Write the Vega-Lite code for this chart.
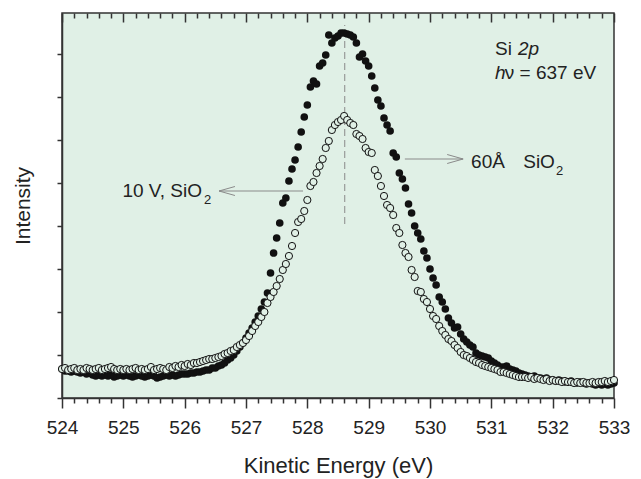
{
  "$schema": "https://vega.github.io/schema/vega-lite/v6.json",
  "width": 552,
  "height": 385,
  "autosize": {"type": "none"},
  "padding": {"left": 62, "top": 13, "right": 27, "bottom": 81},
  "background": "white",
  "config": {
    "view": {"fill": "#e0f0e6", "stroke": "#333333", "strokeWidth": 1.5},
    "font": "Liberation Sans"
  },
  "datasets": {
    "filled": [
      {"energy": 524.00, "intensity": 29}, {"energy": 524.05, "intensity": 27}, {"energy": 524.10, "intensity": 27}, {"energy": 524.15, "intensity": 26}, {"energy": 524.20, "intensity": 27},
      {"energy": 524.25, "intensity": 26}, {"energy": 524.30, "intensity": 25}, {"energy": 524.35, "intensity": 26}, {"energy": 524.40, "intensity": 24}, {"energy": 524.45, "intensity": 25},
      {"energy": 524.50, "intensity": 23}, {"energy": 524.55, "intensity": 22}, {"energy": 524.60, "intensity": 23}, {"energy": 524.65, "intensity": 22}, {"energy": 524.70, "intensity": 23},
      {"energy": 524.75, "intensity": 22}, {"energy": 524.80, "intensity": 23}, {"energy": 524.85, "intensity": 21}, {"energy": 524.90, "intensity": 22}, {"energy": 524.95, "intensity": 23},
      {"energy": 525.00, "intensity": 22}, {"energy": 525.05, "intensity": 23}, {"energy": 525.10, "intensity": 22}, {"energy": 525.15, "intensity": 21}, {"energy": 525.20, "intensity": 22},
      {"energy": 525.25, "intensity": 23}, {"energy": 525.30, "intensity": 22}, {"energy": 525.35, "intensity": 21}, {"energy": 525.40, "intensity": 22}, {"energy": 525.45, "intensity": 23},
      {"energy": 525.50, "intensity": 22}, {"energy": 525.55, "intensity": 20}, {"energy": 525.60, "intensity": 21}, {"energy": 525.65, "intensity": 22}, {"energy": 525.70, "intensity": 23},
      {"energy": 525.75, "intensity": 22}, {"energy": 525.80, "intensity": 23}, {"energy": 525.85, "intensity": 22}, {"energy": 525.90, "intensity": 23}, {"energy": 525.95, "intensity": 24},
      {"energy": 526.00, "intensity": 24}, {"energy": 526.05, "intensity": 24}, {"energy": 526.10, "intensity": 25}, {"energy": 526.15, "intensity": 25}, {"energy": 526.20, "intensity": 26},
      {"energy": 526.25, "intensity": 26}, {"energy": 526.30, "intensity": 27}, {"energy": 526.35, "intensity": 28}, {"energy": 526.40, "intensity": 28}, {"energy": 526.45, "intensity": 30},
      {"energy": 526.50, "intensity": 30}, {"energy": 526.55, "intensity": 32}, {"energy": 526.60, "intensity": 33}, {"energy": 526.65, "intensity": 35}, {"energy": 526.70, "intensity": 38},
      {"energy": 526.75, "intensity": 40}, {"energy": 526.80, "intensity": 43}, {"energy": 526.85, "intensity": 47}, {"energy": 526.90, "intensity": 51}, {"energy": 526.95, "intensity": 55},
      {"energy": 527.00, "intensity": 60}, {"energy": 527.05, "intensity": 65}, {"energy": 527.10, "intensity": 70}, {"energy": 527.15, "intensity": 76}, {"energy": 527.20, "intensity": 82},
      {"energy": 527.25, "intensity": 89}, {"energy": 527.30, "intensity": 96}, {"energy": 527.35, "intensity": 105}, {"energy": 527.40, "intensity": 125}, {"energy": 527.45, "intensity": 145},
      {"energy": 527.50, "intensity": 160}, {"energy": 527.55, "intensity": 175}, {"energy": 527.60, "intensity": 195}, {"energy": 527.65, "intensity": 200}, {"energy": 527.70, "intensity": 217},
      {"energy": 527.75, "intensity": 229}, {"energy": 527.80, "intensity": 238}, {"energy": 527.85, "intensity": 251}, {"energy": 527.90, "intensity": 266}, {"energy": 527.95, "intensity": 281},
      {"energy": 528.00, "intensity": 293}, {"energy": 528.05, "intensity": 311}, {"energy": 528.10, "intensity": 317}, {"energy": 528.15, "intensity": 314}, {"energy": 528.20, "intensity": 332},
      {"energy": 528.25, "intensity": 335}, {"energy": 528.30, "intensity": 343}, {"energy": 528.35, "intensity": 363}, {"energy": 528.40, "intensity": 355}, {"energy": 528.45, "intensity": 360},
      {"energy": 528.50, "intensity": 362}, {"energy": 528.55, "intensity": 365}, {"energy": 528.60, "intensity": 365}, {"energy": 528.65, "intensity": 364}, {"energy": 528.70, "intensity": 363},
      {"energy": 528.75, "intensity": 361}, {"energy": 528.80, "intensity": 355}, {"energy": 528.85, "intensity": 341}, {"energy": 528.90, "intensity": 344}, {"energy": 528.95, "intensity": 337},
      {"energy": 529.00, "intensity": 332}, {"energy": 529.05, "intensity": 322}, {"energy": 529.10, "intensity": 310}, {"energy": 529.15, "intensity": 298}, {"energy": 529.20, "intensity": 292},
      {"energy": 529.25, "intensity": 280}, {"energy": 529.30, "intensity": 273}, {"energy": 529.35, "intensity": 267}, {"energy": 529.40, "intensity": 245}, {"energy": 529.45, "intensity": 241},
      {"energy": 529.50, "intensity": 225}, {"energy": 529.55, "intensity": 219}, {"energy": 529.60, "intensity": 210}, {"energy": 529.65, "intensity": 194}, {"energy": 529.70, "intensity": 185},
      {"energy": 529.75, "intensity": 172}, {"energy": 529.80, "intensity": 165}, {"energy": 529.85, "intensity": 159}, {"energy": 529.90, "intensity": 147}, {"energy": 529.95, "intensity": 140},
      {"energy": 530.00, "intensity": 129}, {"energy": 530.05, "intensity": 120}, {"energy": 530.10, "intensity": 113}, {"energy": 530.15, "intensity": 101}, {"energy": 530.20, "intensity": 96},
      {"energy": 530.25, "intensity": 89}, {"energy": 530.30, "intensity": 80}, {"energy": 530.35, "intensity": 75}, {"energy": 530.40, "intensity": 70}, {"energy": 530.45, "intensity": 71},
      {"energy": 530.50, "intensity": 64}, {"energy": 530.55, "intensity": 59}, {"energy": 530.60, "intensity": 56}, {"energy": 530.65, "intensity": 53}, {"energy": 530.70, "intensity": 51},
      {"energy": 530.75, "intensity": 45}, {"energy": 530.80, "intensity": 43}, {"energy": 530.85, "intensity": 42}, {"energy": 530.90, "intensity": 41}, {"energy": 530.95, "intensity": 40},
      {"energy": 531.00, "intensity": 37}, {"energy": 531.05, "intensity": 35}, {"energy": 531.10, "intensity": 33}, {"energy": 531.15, "intensity": 31}, {"energy": 531.20, "intensity": 31},
      {"energy": 531.25, "intensity": 32}, {"energy": 531.30, "intensity": 29}, {"energy": 531.35, "intensity": 28}, {"energy": 531.40, "intensity": 27}, {"energy": 531.45, "intensity": 25},
      {"energy": 531.50, "intensity": 24}, {"energy": 531.55, "intensity": 23}, {"energy": 531.60, "intensity": 22}, {"energy": 531.65, "intensity": 21}, {"energy": 531.70, "intensity": 22},
      {"energy": 531.75, "intensity": 20}, {"energy": 531.80, "intensity": 20}, {"energy": 531.85, "intensity": 19}, {"energy": 531.90, "intensity": 20}, {"energy": 531.95, "intensity": 18},
      {"energy": 532.00, "intensity": 18}, {"energy": 532.05, "intensity": 17}, {"energy": 532.10, "intensity": 18}, {"energy": 532.15, "intensity": 17}, {"energy": 532.20, "intensity": 16},
      {"energy": 532.25, "intensity": 16}, {"energy": 532.30, "intensity": 17}, {"energy": 532.35, "intensity": 15}, {"energy": 532.40, "intensity": 15}, {"energy": 532.45, "intensity": 16},
      {"energy": 532.50, "intensity": 15}, {"energy": 532.55, "intensity": 14}, {"energy": 532.60, "intensity": 15}, {"energy": 532.65, "intensity": 14}, {"energy": 532.70, "intensity": 13},
      {"energy": 532.75, "intensity": 14}, {"energy": 532.80, "intensity": 13}, {"energy": 532.85, "intensity": 14}, {"energy": 532.90, "intensity": 13}, {"energy": 532.95, "intensity": 14},
      {"energy": 533.00, "intensity": 15}
    ],
    "open": [
      {"energy": 524.00, "intensity": 29}, {"energy": 524.05, "intensity": 30}, {"energy": 524.10, "intensity": 28}, {"energy": 524.15, "intensity": 29}, {"energy": 524.20, "intensity": 30},
      {"energy": 524.25, "intensity": 28}, {"energy": 524.30, "intensity": 29}, {"energy": 524.35, "intensity": 28}, {"energy": 524.40, "intensity": 30}, {"energy": 524.45, "intensity": 29},
      {"energy": 524.50, "intensity": 28}, {"energy": 524.55, "intensity": 29}, {"energy": 524.60, "intensity": 30}, {"energy": 524.65, "intensity": 28}, {"energy": 524.70, "intensity": 29},
      {"energy": 524.75, "intensity": 30}, {"energy": 524.80, "intensity": 31}, {"energy": 524.85, "intensity": 29}, {"energy": 524.90, "intensity": 28}, {"energy": 524.95, "intensity": 29},
      {"energy": 525.00, "intensity": 28}, {"energy": 525.05, "intensity": 29}, {"energy": 525.10, "intensity": 28}, {"energy": 525.15, "intensity": 29}, {"energy": 525.20, "intensity": 30},
      {"energy": 525.25, "intensity": 28}, {"energy": 525.30, "intensity": 29}, {"energy": 525.35, "intensity": 28}, {"energy": 525.40, "intensity": 29}, {"energy": 525.45, "intensity": 31},
      {"energy": 525.50, "intensity": 28}, {"energy": 525.55, "intensity": 29}, {"energy": 525.60, "intensity": 30}, {"energy": 525.65, "intensity": 29}, {"energy": 525.70, "intensity": 28},
      {"energy": 525.75, "intensity": 31}, {"energy": 525.80, "intensity": 30}, {"energy": 525.85, "intensity": 32}, {"energy": 525.90, "intensity": 31}, {"energy": 525.95, "intensity": 33},
      {"energy": 526.00, "intensity": 32}, {"energy": 526.05, "intensity": 34}, {"energy": 526.10, "intensity": 33}, {"energy": 526.15, "intensity": 35}, {"energy": 526.20, "intensity": 35},
      {"energy": 526.25, "intensity": 36}, {"energy": 526.30, "intensity": 37}, {"energy": 526.35, "intensity": 38}, {"energy": 526.40, "intensity": 39}, {"energy": 526.45, "intensity": 39},
      {"energy": 526.50, "intensity": 40}, {"energy": 526.55, "intensity": 41}, {"energy": 526.60, "intensity": 42}, {"energy": 526.65, "intensity": 44}, {"energy": 526.70, "intensity": 45},
      {"energy": 526.75, "intensity": 47}, {"energy": 526.80, "intensity": 48}, {"energy": 526.85, "intensity": 51}, {"energy": 526.90, "intensity": 53}, {"energy": 526.95, "intensity": 55},
      {"energy": 527.00, "intensity": 58}, {"energy": 527.05, "intensity": 62}, {"energy": 527.10, "intensity": 67}, {"energy": 527.15, "intensity": 72}, {"energy": 527.20, "intensity": 76},
      {"energy": 527.25, "intensity": 81}, {"energy": 527.30, "intensity": 86}, {"energy": 527.35, "intensity": 95}, {"energy": 527.40, "intensity": 101}, {"energy": 527.45, "intensity": 106},
      {"energy": 527.50, "intensity": 112}, {"energy": 527.55, "intensity": 119}, {"energy": 527.60, "intensity": 128}, {"energy": 527.65, "intensity": 134}, {"energy": 527.70, "intensity": 142},
      {"energy": 527.75, "intensity": 152}, {"energy": 527.80, "intensity": 165}, {"energy": 527.85, "intensity": 176}, {"energy": 527.90, "intensity": 179}, {"energy": 527.95, "intensity": 187},
      {"energy": 528.00, "intensity": 198}, {"energy": 528.05, "intensity": 212}, {"energy": 528.10, "intensity": 216}, {"energy": 528.15, "intensity": 225}, {"energy": 528.20, "intensity": 232},
      {"energy": 528.25, "intensity": 239}, {"energy": 528.30, "intensity": 250}, {"energy": 528.35, "intensity": 257}, {"energy": 528.40, "intensity": 268}, {"energy": 528.45, "intensity": 273},
      {"energy": 528.50, "intensity": 276}, {"energy": 528.55, "intensity": 278}, {"energy": 528.60, "intensity": 282}, {"energy": 528.65, "intensity": 278}, {"energy": 528.70, "intensity": 275},
      {"energy": 528.75, "intensity": 273}, {"energy": 528.80, "intensity": 264}, {"energy": 528.85, "intensity": 262}, {"energy": 528.90, "intensity": 259}, {"energy": 528.95, "intensity": 250},
      {"energy": 529.00, "intensity": 246}, {"energy": 529.05, "intensity": 245}, {"energy": 529.10, "intensity": 228}, {"energy": 529.15, "intensity": 222}, {"energy": 529.20, "intensity": 212},
      {"energy": 529.25, "intensity": 202}, {"energy": 529.30, "intensity": 193}, {"energy": 529.35, "intensity": 190}, {"energy": 529.40, "intensity": 183}, {"energy": 529.45, "intensity": 170},
      {"energy": 529.50, "intensity": 165}, {"energy": 529.55, "intensity": 153}, {"energy": 529.60, "intensity": 145}, {"energy": 529.65, "intensity": 141}, {"energy": 529.70, "intensity": 128},
      {"energy": 529.75, "intensity": 121}, {"energy": 529.80, "intensity": 107}, {"energy": 529.85, "intensity": 106}, {"energy": 529.90, "intensity": 99}, {"energy": 529.95, "intensity": 96},
      {"energy": 530.00, "intensity": 89}, {"energy": 530.05, "intensity": 82}, {"energy": 530.10, "intensity": 79}, {"energy": 530.15, "intensity": 72}, {"energy": 530.20, "intensity": 67},
      {"energy": 530.25, "intensity": 63}, {"energy": 530.30, "intensity": 59}, {"energy": 530.35, "intensity": 57}, {"energy": 530.40, "intensity": 53}, {"energy": 530.45, "intensity": 50},
      {"energy": 530.50, "intensity": 46}, {"energy": 530.55, "intensity": 43}, {"energy": 530.60, "intensity": 42}, {"energy": 530.65, "intensity": 40}, {"energy": 530.70, "intensity": 38},
      {"energy": 530.75, "intensity": 36}, {"energy": 530.80, "intensity": 35}, {"energy": 530.85, "intensity": 33}, {"energy": 530.90, "intensity": 32}, {"energy": 530.95, "intensity": 31},
      {"energy": 531.00, "intensity": 30}, {"energy": 531.05, "intensity": 29}, {"energy": 531.10, "intensity": 28}, {"energy": 531.15, "intensity": 26}, {"energy": 531.20, "intensity": 26},
      {"energy": 531.25, "intensity": 25}, {"energy": 531.30, "intensity": 24}, {"energy": 531.35, "intensity": 23}, {"energy": 531.40, "intensity": 22}, {"energy": 531.45, "intensity": 21},
      {"energy": 531.50, "intensity": 21}, {"energy": 531.55, "intensity": 21}, {"energy": 531.60, "intensity": 20}, {"energy": 531.65, "intensity": 21}, {"energy": 531.70, "intensity": 19},
      {"energy": 531.75, "intensity": 20}, {"energy": 531.80, "intensity": 19}, {"energy": 531.85, "intensity": 18}, {"energy": 531.90, "intensity": 19}, {"energy": 531.95, "intensity": 17},
      {"energy": 532.00, "intensity": 18}, {"energy": 532.05, "intensity": 17}, {"energy": 532.10, "intensity": 17}, {"energy": 532.15, "intensity": 16}, {"energy": 532.20, "intensity": 17},
      {"energy": 532.25, "intensity": 16}, {"energy": 532.30, "intensity": 16}, {"energy": 532.35, "intensity": 15}, {"energy": 532.40, "intensity": 16}, {"energy": 532.45, "intensity": 15},
      {"energy": 532.50, "intensity": 16}, {"energy": 532.55, "intensity": 15}, {"energy": 532.60, "intensity": 15}, {"energy": 532.65, "intensity": 16}, {"energy": 532.70, "intensity": 15},
      {"energy": 532.75, "intensity": 16}, {"energy": 532.80, "intensity": 16}, {"energy": 532.85, "intensity": 17}, {"energy": 532.90, "intensity": 16}, {"energy": 532.95, "intensity": 17},
      {"energy": 533.00, "intensity": 18}
    ],
    "arrows": [
      {"energy": 527.93, "intensity": 207, "energy2": 526.56, "intensity2": 207},
      {"energy": 526.56, "intensity": 207, "energy2": 526.82, "intensity2": 211.5},
      {"energy": 526.56, "intensity": 207, "energy2": 526.82, "intensity2": 202.5},
      {"energy": 529.59, "intensity": 239, "energy2": 530.54, "intensity2": 239},
      {"energy": 530.54, "intensity": 239, "energy2": 530.28, "intensity2": 243.5},
      {"energy": 530.54, "intensity": 239, "energy2": 530.28, "intensity2": 234.5}
    ],
    "peakline": [
      {"energy": 528.61, "intensity": 174, "intensity2": 373}
    ],
    "textRegular": [
      {"energy": 530.67, "intensity": 236, "label": "60Å"},
      {"energy": 531.52, "intensity": 236, "label": "SiO"},
      {"energy": 531.06, "intensity": 349, "label": "Si"},
      {"energy": 531.22, "intensity": 325, "label": "ν = 637 eV"}
    ],
    "textItalic": [
      {"energy": 531.435, "intensity": 349, "label": "2p"},
      {"energy": 531.06, "intensity": 325, "label": "h"}
    ],
    "textRight": [
      {"energy": 526.283, "intensity": 207, "label": "10 V, SiO"}
    ],
    "textSub": [
      {"energy": 526.315, "intensity": 198, "label": "2"},
      {"energy": 532.055, "intensity": 227, "label": "2"}
    ]
  },
  "resolve": {"axis": {"x": "independent"}},
  "encoding": {
    "y": {"field": "intensity", "type": "quantitative",
      "scale": {"domain": [0, 385], "nice": false, "zero": true},
      "axis": {
        "orient": "left",
        "values": [0, 43, 86, 129, 172, 215, 258, 301, 344],
        "labels": false,
        "grid": false,
        "tickSize": 5,
        "tickColor": "#333333",
        "tickWidth": 1.5,
        "domainColor": "#333333",
        "domainWidth": 1.5,
        "title": "Intensity",
        "titleFontSize": 21,
        "titleFontWeight": "normal",
        "titleColor": "#222222",
        "titleFont": "Liberation Sans",
        "titlePadding": 23
      }
    }
  },
  "layer": [
    {
      "data": {"name": "peakline"},
      "mark": {"type": "rule", "color": "#8a8a8a", "strokeWidth": 1, "strokeDash": [7, 4]},
      "encoding": {
        "x": {"field": "energy", "type": "quantitative", "scale": {"domain": [524, 533], "nice": false, "zero": false},
          "axis": {
            "orient": "top",
            "values": [524, 524.2, 524.4, 524.6, 524.8, 525, 525.2, 525.4, 525.6, 525.8, 526, 526.2, 526.4, 526.6, 526.8, 527, 527.2, 527.4, 527.6, 527.8, 528, 528.2, 528.4, 528.6, 528.8, 529, 529.2, 529.4, 529.6, 529.8, 530, 530.2, 530.4, 530.6, 530.8, 531, 531.2, 531.4, 531.6, 531.8, 532, 532.2, 532.4, 532.6, 532.8, 533],
            "labels": false,
            "title": null,
            "domain": false,
            "grid": false,
            "tickColor": "#333333",
            "tickWidth": 1.5,
            "tickSize": {"condition": {"test": "abs(datum.value - round(datum.value)) < 0.01", "value": -9}, "value": -5}
          }
        },
        "y2": {"field": "intensity2"}
      }
    },
    {
      "data": {"name": "arrows"},
      "mark": {"type": "rule", "color": "#8a8a8a", "strokeWidth": 1},
      "encoding": {
        "x": {"field": "energy", "type": "quantitative", "axis": null},
        "x2": {"field": "energy2"},
        "y2": {"field": "intensity2"}
      }
    },
    {
      "data": {"name": "filled"},
      "mark": {"type": "point", "shape": "circle", "filled": true, "color": "#111111", "opacity": 1, "size": 58},
      "encoding": {
        "x": {"field": "energy", "type": "quantitative",
          "axis": {
            "orient": "bottom",
            "values": [524, 524.2, 524.4, 524.6, 524.8, 525, 525.2, 525.4, 525.6, 525.8, 526, 526.2, 526.4, 526.6, 526.8, 527, 527.2, 527.4, 527.6, 527.8, 528, 528.2, 528.4, 528.6, 528.8, 529, 529.2, 529.4, 529.6, 529.8, 530, 530.2, 530.4, 530.6, 530.8, 531, 531.2, 531.4, 531.6, 531.8, 532, 532.2, 532.4, 532.6, 532.8, 533],
            "format": ".0f",
            "labelExpr": "abs(datum.value - round(datum.value)) < 0.01 ? datum.label : ''",
            "grid": false,
            "tickColor": "#333333",
            "tickWidth": 1.5,
            "tickSize": {"condition": {"test": "abs(datum.value - round(datum.value)) < 0.01", "value": 10}, "value": 5},
            "domainColor": "#333333",
            "domainWidth": 1.5,
            "labelFontSize": 19,
            "labelColor": "#222222",
            "labelFont": "Liberation Sans",
            "labelPadding": 10,
            "labelFlush": false,
            "title": "Kinetic Energy (eV)",
            "titleFontSize": 22,
            "titleFontWeight": "normal",
            "titleColor": "#222222",
            "titleFont": "Liberation Sans",
            "titlePadding": 18
          }
        }
      }
    },
    {
      "data": {"name": "open"},
      "mark": {"type": "point", "shape": "circle", "filled": false, "fill": "#e0f0e6", "fillOpacity": 1, "stroke": "#111111", "strokeWidth": 1, "opacity": 1, "size": 52},
      "encoding": {
        "x": {"field": "energy", "type": "quantitative", "axis": null}
      }
    },
    {
      "data": {"name": "textRegular"},
      "mark": {"type": "text", "align": "left", "baseline": "middle", "fontSize": 19, "font": "Liberation Sans", "color": "#222222"},
      "encoding": {
        "x": {"field": "energy", "type": "quantitative", "axis": null},
        "text": {"field": "label"}
      }
    },
    {
      "data": {"name": "textItalic"},
      "mark": {"type": "text", "align": "left", "baseline": "middle", "fontSize": 19, "fontStyle": "italic", "font": "Liberation Sans", "color": "#222222"},
      "encoding": {
        "x": {"field": "energy", "type": "quantitative", "axis": null},
        "text": {"field": "label"}
      }
    },
    {
      "data": {"name": "textRight"},
      "mark": {"type": "text", "align": "right", "baseline": "middle", "fontSize": 19, "font": "Liberation Sans", "color": "#222222"},
      "encoding": {
        "x": {"field": "energy", "type": "quantitative", "axis": null},
        "text": {"field": "label"}
      }
    },
    {
      "data": {"name": "textSub"},
      "mark": {"type": "text", "align": "left", "baseline": "middle", "fontSize": 13, "font": "Liberation Sans", "color": "#222222"},
      "encoding": {
        "x": {"field": "energy", "type": "quantitative", "axis": null},
        "text": {"field": "label"}
      }
    }
  ]
}
